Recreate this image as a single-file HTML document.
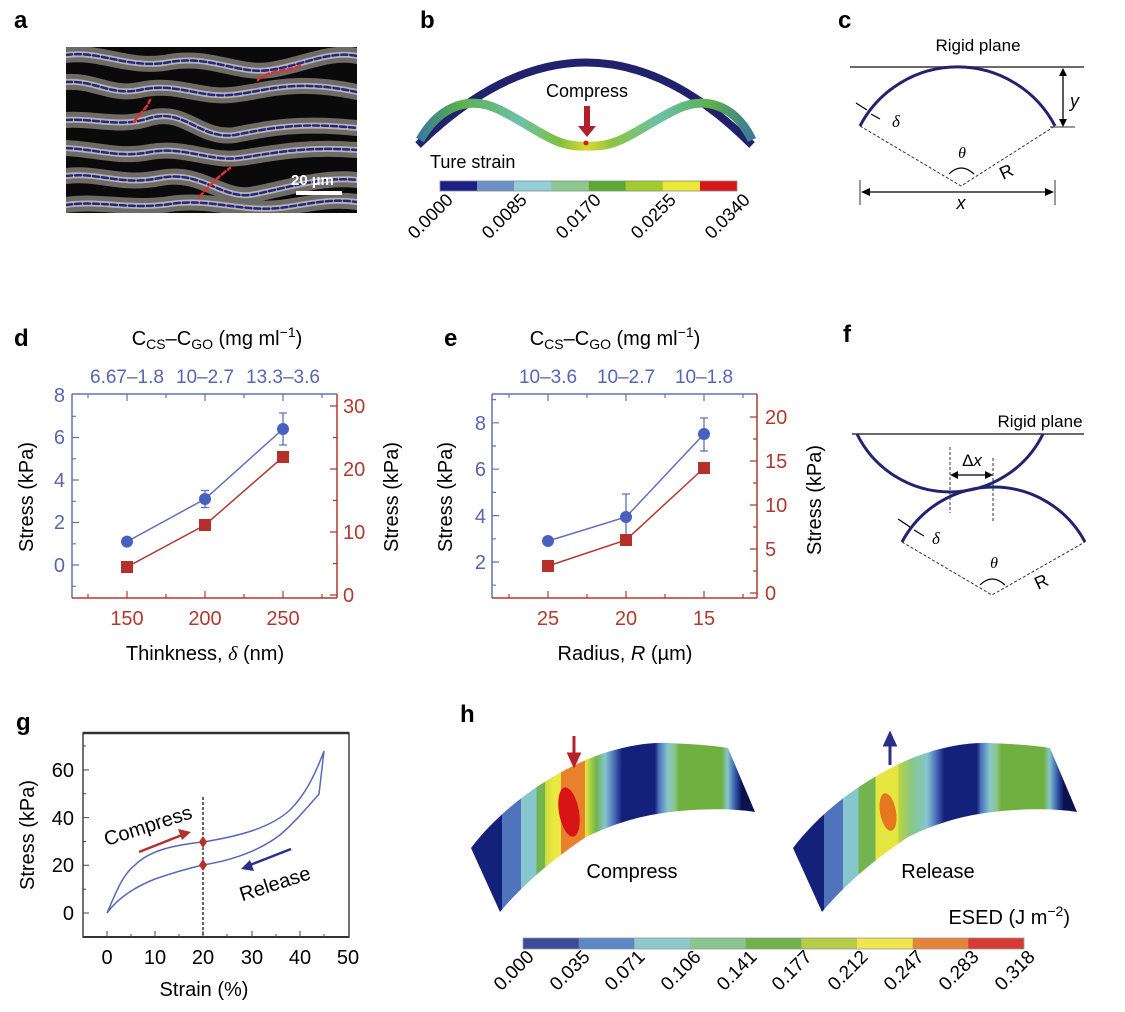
<!DOCTYPE html>
<html><head><meta charset="utf-8"><style>
html,body{margin:0;padding:0;background:#fff;}
svg{display:block;font-family:"Liberation Sans",sans-serif;}
</style></head><body>
<svg width="1125" height="1012" viewBox="0 0 1125 1012" xmlns="http://www.w3.org/2000/svg">
<defs>
<clipPath id="ca"><rect x="66" y="47" width="291" height="166"/></clipPath>
<linearGradient id="wave" x1="420" y1="0" x2="752" y2="0" gradientUnits="userSpaceOnUse">
<stop offset="0" stop-color="#3a7a9a"/><stop offset="0.12" stop-color="#5db04a"/><stop offset="0.3" stop-color="#6cc0a8"/><stop offset="0.42" stop-color="#7fc040"/><stop offset="0.5" stop-color="#d8d830"/><stop offset="0.58" stop-color="#8cc440"/><stop offset="0.72" stop-color="#6cc0a8"/><stop offset="0.88" stop-color="#5db04a"/><stop offset="1" stop-color="#3a7a9a"/>
</linearGradient>
<linearGradient id="hc" x1="471" y1="0" x2="756" y2="0" gradientUnits="userSpaceOnUse">
<stop offset="0" stop-color="#14217a"/><stop offset="0.109" stop-color="#14217a"/><stop offset="0.109" stop-color="#4f73bd"/><stop offset="0.175" stop-color="#4f73bd"/><stop offset="0.175" stop-color="#86c6cc"/><stop offset="0.23" stop-color="#86c6cc"/><stop offset="0.23" stop-color="#72b450"/><stop offset="0.26" stop-color="#72b450"/><stop offset="0.26" stop-color="#c8dc3c"/><stop offset="0.29" stop-color="#ece840"/><stop offset="0.315" stop-color="#ece840"/><stop offset="0.315" stop-color="#e8802c"/><stop offset="0.4" stop-color="#e8802c"/><stop offset="0.4" stop-color="#e8e640"/><stop offset="0.42" stop-color="#a8d040"/><stop offset="0.44" stop-color="#72b450"/><stop offset="0.47" stop-color="#86c6cc"/><stop offset="0.5" stop-color="#4f73bd"/><stop offset="0.53" stop-color="#14217a"/><stop offset="0.645" stop-color="#14217a"/><stop offset="0.66" stop-color="#4f73bd"/><stop offset="0.69" stop-color="#86c6cc"/><stop offset="0.715" stop-color="#8cc48c"/><stop offset="0.73" stop-color="#70b040"/><stop offset="0.88" stop-color="#70b040"/><stop offset="0.9" stop-color="#86c6cc"/><stop offset="0.93" stop-color="#2e4fa6"/><stop offset="0.95" stop-color="#0a1250"/><stop offset="1" stop-color="#0a1250"/>
</linearGradient>
<linearGradient id="hr" x1="793" y1="0" x2="1078" y2="0" gradientUnits="userSpaceOnUse">
<stop offset="0" stop-color="#14217a"/><stop offset="0.109" stop-color="#14217a"/><stop offset="0.109" stop-color="#4f73bd"/><stop offset="0.175" stop-color="#4f73bd"/><stop offset="0.175" stop-color="#86c6cc"/><stop offset="0.23" stop-color="#86c6cc"/><stop offset="0.23" stop-color="#72b450"/><stop offset="0.29" stop-color="#72b450"/><stop offset="0.29" stop-color="#e6e640"/><stop offset="0.37" stop-color="#e6e640"/><stop offset="0.37" stop-color="#b8d440"/><stop offset="0.42" stop-color="#86c68c"/><stop offset="0.47" stop-color="#86c6cc"/><stop offset="0.5" stop-color="#4f73bd"/><stop offset="0.53" stop-color="#14217a"/><stop offset="0.645" stop-color="#14217a"/><stop offset="0.66" stop-color="#4f73bd"/><stop offset="0.69" stop-color="#86c6cc"/><stop offset="0.715" stop-color="#8cc48c"/><stop offset="0.73" stop-color="#70b040"/><stop offset="0.88" stop-color="#70b040"/><stop offset="0.9" stop-color="#86c6cc"/><stop offset="0.93" stop-color="#2e4fa6"/><stop offset="0.95" stop-color="#0a1250"/><stop offset="1" stop-color="#0a1250"/>
</linearGradient>
</defs>

<!-- Panel labels -->
<g font-weight="bold" font-size="24" fill="#000">
<text x="14" y="28">a</text><text x="420" y="28">b</text><text x="838" y="28">c</text>
<text x="14" y="346">d</text><text x="444" y="346">e</text><text x="843" y="342">f</text>
<text x="16" y="730">g</text><text x="460" y="722">h</text>
</g>

<!-- Panel a -->
<rect x="66" y="47" width="291" height="166" fill="#0b0a0a"/>
<g fill="none" stroke-linecap="round" clip-path="url(#ca)">
<g stroke="#8f8a84" stroke-width="16" opacity="0.75">
<path d="M66,55 C100,50 130,70 170,62 C210,55 240,75 270,70 C300,66 330,50 357,56"/>
<path d="M66,82 C95,80 110,96 140,90 C175,82 200,98 230,95 C265,92 290,78 357,92"/>
<path d="M66,120 C95,118 120,128 150,118 C185,108 200,140 235,135 C270,128 300,122 357,128"/>
<path d="M66,148 C100,150 120,158 150,152 C185,146 210,162 240,158 C270,154 300,146 357,150"/>
<path d="M66,176 C100,172 120,186 160,178 C200,170 220,198 250,195 C280,190 320,176 357,180"/>
<path d="M66,205 C100,200 130,210 170,204 C210,198 240,212 280,208 C310,204 330,198 357,202"/>
</g>
<g stroke="#c4c0ba" stroke-width="6" opacity="0.85">
<path d="M66,55 C100,50 130,70 170,62 C210,55 240,75 270,70 C300,66 330,50 357,56"/>
<path d="M66,82 C95,80 110,96 140,90 C175,82 200,98 230,95 C265,92 290,78 357,92"/>
<path d="M66,120 C95,118 120,128 150,118 C185,108 200,140 235,135 C270,128 300,122 357,128"/>
<path d="M66,148 C100,150 120,158 150,152 C185,146 210,162 240,158 C270,154 300,146 357,150"/>
<path d="M66,176 C100,172 120,186 160,178 C200,170 220,198 250,195 C280,190 320,176 357,180"/>
<path d="M66,205 C100,200 130,210 170,204 C210,198 240,212 280,208 C310,204 330,198 357,202"/>
</g>
<g stroke="#22268a" stroke-width="2.5" stroke-dasharray="6,3">
<path d="M66,55 C100,50 130,70 170,62 C210,55 240,75 270,70 C300,66 330,50 357,56"/>
<path d="M66,82 C95,80 110,96 140,90 C175,82 200,98 230,95 C265,92 290,78 357,92"/>
<path d="M66,120 C95,118 120,128 150,118 C185,108 200,140 235,135 C270,128 300,122 357,128"/>
<path d="M66,148 C100,150 120,158 150,152 C185,146 210,162 240,158 C270,154 300,146 357,150"/>
<path d="M66,176 C100,172 120,186 160,178 C200,170 220,198 250,195 C280,190 320,176 357,180"/>
<path d="M66,205 C100,200 130,210 170,204 C210,198 240,212 280,208 C310,204 330,198 357,202"/>
</g>
<g stroke="#e03030" stroke-width="2.5" stroke-dasharray="5,3">
<path d="M258,80 C268,70 285,72 300,66"/>
<path d="M134,122 C140,112 146,110 150,100"/>
<path d="M199,197 C208,188 214,180 230,168"/>
</g>
</g>
<text x="291" y="185" font-size="15" font-weight="bold" fill="#fff">20 µm</text>
<rect x="296" y="191" width="46" height="4" fill="#fff"/>

<!-- Panel b -->
<path d="M418,145 Q587,-20 752,145" fill="none" stroke="#21226b" stroke-width="8"/>
<path d="M420,140 C440,105 470,95 500,110 C540,130 555,148 587,146 C620,148 635,130 675,110 C705,95 735,105 752,140" fill="none" stroke="url(#wave)" stroke-width="9"/>
<circle cx="586" cy="143" r="2.5" fill="#d02020"/>
<text x="587" y="97" font-size="18" text-anchor="middle">Compress</text>
<path d="M584,106 h6 v20 h6 l-9,11 l-9,-11 h6 z" fill="#b0202a"/>
<text x="430" y="168" font-size="18">Ture strain</text>
<g>
<rect x="440" y="181" width="37.2" height="10" fill="#1b1f86"/>
<rect x="477.1" y="181" width="37.2" height="10" fill="#6c90c8"/>
<rect x="514.3" y="181" width="37.2" height="10" fill="#92cfd6"/>
<rect x="551.4" y="181" width="37.2" height="10" fill="#8cc98e"/>
<rect x="588.6" y="181" width="37.2" height="10" fill="#5aaa30"/>
<rect x="625.7" y="181" width="37.2" height="10" fill="#a2cc2a"/>
<rect x="662.9" y="181" width="37.2" height="10" fill="#ece836"/>
<rect x="700" y="181" width="37" height="10" fill="#d81818"/>
<rect x="440" y="181" width="297" height="10" fill="none" stroke="#888" stroke-width="0.8"/>
</g>
<g font-size="18" text-anchor="end">
<text transform="translate(454,201) rotate(-45)">0.0000</text>
<text transform="translate(528,201) rotate(-45)">0.0085</text>
<text transform="translate(602,201) rotate(-45)">0.0170</text>
<text transform="translate(677,201) rotate(-45)">0.0255</text>
<text transform="translate(751,201) rotate(-45)">0.0340</text>
</g>

<!-- Panel c -->
<text x="978" y="51" font-size="17" text-anchor="middle">Rigid plane</text>
<line x1="850" y1="67" x2="1084" y2="67" stroke="#555" stroke-width="1.8"/>
<path d="M860,126 A110,110 0 0 1 1055,126" fill="none" stroke="#22226e" stroke-width="3"/>
<path d="M860,126 L961,186 L1055,126" fill="none" stroke="#333" stroke-width="1" stroke-dasharray="3,2"/>
<line x1="1050" y1="127" x2="1075" y2="127" stroke="#333" stroke-width="1"/>
<line x1="1063" y1="70" x2="1063" y2="125" stroke="#000" stroke-width="1.3"/>
<path d="M1059,76 L1063,68 L1067,76 Z M1059,119 L1063,127 L1067,119 Z" fill="#000"/>
<text x="1070" y="107" font-size="18" font-style="italic">y</text>
<path d="M856,103 L867,110 M880,119 L871,114" stroke="#000" stroke-width="1.2"/>
<text x="892" y="127" font-size="17" font-style="italic" font-family="Liberation Serif,serif">δ</text>
<text x="962" y="158" font-size="16" font-style="italic" font-family="Liberation Serif,serif" text-anchor="middle">θ</text>
<path d="M949,174 Q961,162 974,174" fill="none" stroke="#000" stroke-width="1.2"/>
<text transform="translate(1003,180) rotate(-25)" font-size="18">R</text>
<line x1="860" y1="180" x2="860" y2="205" stroke="#333" stroke-width="1"/>
<line x1="1055" y1="180" x2="1055" y2="205" stroke="#333" stroke-width="1"/>
<line x1="864" y1="192" x2="1051" y2="192" stroke="#000" stroke-width="1.3"/>
<path d="M870,188 L861,192 L870,196 Z M1045,188 L1054,192 L1045,196 Z" fill="#000"/>
<text x="961" y="209" font-size="18" font-style="italic" text-anchor="middle">x</text>

<!-- Panel f -->
<text x="1040" y="427" font-size="17" text-anchor="middle">Rigid plane</text>
<line x1="852" y1="434" x2="1084" y2="434" stroke="#555" stroke-width="1.8"/>
<path d="M857,434 A103.6,103.6 0 0 0 1043,434" fill="none" stroke="#22226e" stroke-width="3"/>
<path d="M902,542 A103.6,103.6 0 0 1 1085,542" fill="none" stroke="#22226e" stroke-width="3"/>
<path d="M902,542 L992,595 L1085,542" fill="none" stroke="#333" stroke-width="1" stroke-dasharray="3,2"/>
<line x1="950" y1="447" x2="950" y2="513" stroke="#333" stroke-width="1" stroke-dasharray="3,2"/>
<line x1="993" y1="458" x2="993" y2="523" stroke="#333" stroke-width="1" stroke-dasharray="3,2"/>
<line x1="954" y1="475" x2="989" y2="475" stroke="#000" stroke-width="1.3"/>
<path d="M958,471 L950,475 L958,479 Z M985,471 L993,475 L985,479 Z" fill="#000"/>
<text x="972" y="466" font-size="17" text-anchor="middle">Δ<tspan font-style="italic">x</tspan></text>
<path d="M898,519 L910,527 M924,536 L914,530" stroke="#000" stroke-width="1.2"/>
<text x="932" y="544" font-size="17" font-style="italic" font-family="Liberation Serif,serif">δ</text>
<text x="994" y="568" font-size="16" font-style="italic" font-family="Liberation Serif,serif" text-anchor="middle">θ</text>
<path d="M980,585 Q992,573 1005,585" fill="none" stroke="#000" stroke-width="1.2"/>
<text transform="translate(1038,590) rotate(-25)" font-size="18">R</text>

<!-- Panel d -->
<g font-size="20">
<text x="217" y="345" text-anchor="middle">C<tspan font-size="14" dy="4">CS</tspan><tspan dy="-4">–C</tspan><tspan font-size="14" dy="4">GO</tspan><tspan dy="-4"> (mg ml</tspan><tspan font-size="14" dy="-8">−1</tspan><tspan dy="8">)</tspan></text>
<g fill="#5865b0" text-anchor="middle" font-size="19"><text x="127" y="383">6.67–1.8</text><text x="205" y="383">10–2.7</text><text x="283" y="383">13.3–3.6</text></g>
<g fill="#5865b0" text-anchor="end" font-size="20"><text x="65" y="572">0</text><text x="65" y="529">2</text><text x="65" y="487">4</text><text x="65" y="444">6</text><text x="65" y="402">8</text></g>
<g fill="#b03a2e" font-size="20"><text x="343" y="602">0</text><text x="343" y="539">10</text><text x="343" y="476">20</text><text x="343" y="413">30</text></g>
<g fill="#b03a2e" text-anchor="middle" font-size="20"><text x="127" y="625">150</text><text x="205" y="625">200</text><text x="283" y="625">250</text></g>
<text x="205" y="660" text-anchor="middle">Thinkness, <tspan font-style="italic" font-family="Liberation Serif,serif">δ</tspan> (nm)</text>
<text transform="translate(33,497) rotate(-90)" text-anchor="middle">Stress (kPa)</text>
<text transform="translate(398,497) rotate(-90)" text-anchor="middle">Stress (kPa)</text>
</g>
<g stroke-width="1.5">
<line x1="72" y1="394" x2="72" y2="598" stroke="#6070b8"/><line x1="72" y1="394" x2="337" y2="394" stroke="#6070b8"/>
<line x1="72" y1="598" x2="337" y2="598" stroke="#b03a2e"/><line x1="337" y1="394" x2="337" y2="598" stroke="#b03a2e"/>
</g>
<g stroke="#6070b8" stroke-width="1.2">
<path d="M72,565h7M72,522.5h7M72,480h7M72,437.5h7M72,543.8h4M72,501.3h4M72,458.8h4M72,416.3h4M72,586.3h4"/>
<path d="M127,394v7M205,394v7M283,394v7M88,394v4M166,394v4M244,394v4M322,394v4"/>
</g>
<g stroke="#b03a2e" stroke-width="1.2">
<path d="M127,598v-7M205,598v-7M283,598v-7M88,598v-4M166,598v-4M244,598v-4M322,598v-4"/>
<path d="M337,595h-7M337,532h-7M337,469h-7M337,406h-7M337,563.5h-4M337,500.5h-4M337,437.5h-4"/>
</g>
<polyline points="127,541.6 205,499 283,429" fill="none" stroke="#6070b8" stroke-width="1.5"/>
<path d="M205,490.5v17M201,490.5h8M201,507.5h8M283,413v32M279,413h8M279,445h8" stroke="#6070b8" stroke-width="1.3"/>
<g fill="#4a60c0"><circle cx="127" cy="541.6" r="6"/><circle cx="205" cy="499" r="6"/><circle cx="283" cy="429" r="6"/></g>
<polyline points="127,567 205,525 283,457" fill="none" stroke="#b03a2e" stroke-width="1.5"/>
<g fill="#b5302a"><rect x="121" y="561" width="12" height="12"/><rect x="199" y="519" width="12" height="12"/><rect x="277" y="451" width="12" height="12"/></g>

<!-- Panel e -->
<g font-size="20">
<text x="615" y="345" text-anchor="middle">C<tspan font-size="14" dy="4">CS</tspan><tspan dy="-4">–C</tspan><tspan font-size="14" dy="4">GO</tspan><tspan dy="-4"> (mg ml</tspan><tspan font-size="14" dy="-8">−1</tspan><tspan dy="8">)</tspan></text>
<g fill="#5865b0" text-anchor="middle" font-size="19"><text x="548" y="383">10–3.6</text><text x="626" y="383">10–2.7</text><text x="704" y="383">10–1.8</text></g>
<g fill="#5865b0" text-anchor="end" font-size="20"><text x="486" y="569">2</text><text x="486" y="523">4</text><text x="486" y="476">6</text><text x="486" y="430">8</text></g>
<g fill="#b03a2e" font-size="20"><text x="765" y="600">0</text><text x="765" y="556">5</text><text x="765" y="512">10</text><text x="765" y="468">15</text><text x="765" y="424">20</text></g>
<g fill="#b03a2e" text-anchor="middle" font-size="20"><text x="548" y="625">25</text><text x="626" y="625">20</text><text x="704" y="625">15</text></g>
<text x="625" y="660" text-anchor="middle">Radius, <tspan font-style="italic">R</tspan> (µm)</text>
<text transform="translate(452,497) rotate(-90)" text-anchor="middle">Stress (kPa)</text>
<text transform="translate(821,500) rotate(-90)" text-anchor="middle">Stress (kPa)</text>
</g>
<g stroke-width="1.5">
<line x1="492" y1="394" x2="492" y2="598" stroke="#6070b8"/><line x1="492" y1="394" x2="757" y2="394" stroke="#6070b8"/>
<line x1="492" y1="598" x2="757" y2="598" stroke="#b03a2e"/><line x1="757" y1="394" x2="757" y2="598" stroke="#b03a2e"/>
</g>
<g stroke="#6070b8" stroke-width="1.2">
<path d="M492,562h7M492,515.6h7M492,469.2h7M492,422.8h7M492,585.2h4M492,538.8h4M492,492.4h4M492,446h4M492,399.6h4"/>
<path d="M548,394v7M626,394v7M704,394v7M509,394v4M587,394v4M665,394v4M743,394v4"/>
</g>
<g stroke="#b03a2e" stroke-width="1.2">
<path d="M548,598v-7M626,598v-7M704,598v-7M509,598v-4M587,598v-4M665,598v-4M743,598v-4"/>
<path d="M757,593h-7M757,549h-7M757,505h-7M757,461h-7M757,417h-7M757,571h-4M757,527h-4M757,483h-4M757,439h-4"/>
</g>
<polyline points="548,541 626,517 704,434" fill="none" stroke="#6070b8" stroke-width="1.5"/>
<path d="M626,494v40M622,494h8M704,418v33M700,418h8M700,451h8" stroke="#6070b8" stroke-width="1.3"/>
<g fill="#4a60c0"><circle cx="548" cy="541" r="6"/><circle cx="626" cy="517" r="6"/><circle cx="704" cy="434" r="6"/></g>
<polyline points="548,566 626,540 704,468" fill="none" stroke="#b03a2e" stroke-width="1.5"/>
<g fill="#b5302a"><rect x="542" y="560" width="12" height="12"/><rect x="620" y="534" width="12" height="12"/><rect x="698" y="462" width="12" height="12"/></g>

<!-- Panel g -->
<rect x="83" y="733" width="266" height="204" fill="none" stroke="#444" stroke-width="1.5"/>
<line x1="83" y1="733" x2="349" y2="733" stroke="#333" stroke-width="2.5"/>
<line x1="83" y1="937" x2="349" y2="937" stroke="#333" stroke-width="2"/>
<g stroke="#444" stroke-width="1">
<path d="M83,913h6M83,865.3h6M83,817.6h6M83,769.9h6M83,889.2h3M83,841.5h3M83,793.8h3M83,746h3"/>
<path d="M107,937v-6M155,937v-6M203,937v-6M252,937v-6M300,937v-6M131,937v-3M179,937v-3M227,937v-3M276,937v-3M324,937v-3"/>
</g>
<g font-size="20" text-anchor="end"><text x="74" y="920">0</text><text x="74" y="872">20</text><text x="74" y="825">40</text><text x="74" y="777">60</text></g>
<g font-size="20" text-anchor="middle"><text x="107" y="964">0</text><text x="155" y="964">10</text><text x="203" y="964">20</text><text x="252" y="964">30</text><text x="300" y="964">40</text><text x="348" y="964">50</text></g>
<text x="204" y="996" font-size="20" text-anchor="middle">Strain (%)</text>
<text transform="translate(34,835) rotate(-90)" font-size="20" text-anchor="middle">Stress (kPa)</text>
<line x1="203" y1="797" x2="203" y2="937" stroke="#000" stroke-width="1.2" stroke-dasharray="3,2"/>
<path d="M107,913 C115,895 122,875 135,865 C150,850 175,845 203,842 C240,836 270,828 290,810 C305,795 315,775 324,751 M107,913 C120,895 140,885 155,879 C175,872 190,868 203,865 C235,860 260,850 280,835 C295,822 305,810 319,794 L324,751" fill="none" stroke="#5868b8" stroke-width="1.5"/>
<g fill="#b5302a"><path d="M203,836 l4,6 l-4,6 l-4,-6 z"/><path d="M203,859 l4,6 l-4,6 l-4,-6 z"/></g>
<text transform="translate(150,832) rotate(-18)" font-size="20" text-anchor="middle">Compress</text>
<line x1="139" y1="852" x2="182" y2="835" stroke="#b5302a" stroke-width="2.5"/>
<path d="M191,832 L178,829 L182,840 Z" fill="#b5302a"/>
<text transform="translate(277,890) rotate(-18)" font-size="20" text-anchor="middle">Release</text>
<line x1="291" y1="849" x2="250" y2="865" stroke="#2a2f8a" stroke-width="2.5"/>
<path d="M241,869 L254,871 L250,860 Z" fill="#2a2f8a"/>

<!-- Panel h -->
<path d="M471,848 C500,810 540,782 575,765 C605,750 640,742 667,743 C690,744 710,745 728,748 L755,812 C730,808 690,808 651,815 C625,820 605,828 586,837 C555,858 525,882 500,912 Z" fill="url(#hc)"/>
<ellipse cx="569" cy="812" rx="10" ry="25" transform="rotate(-10,569,812)" fill="#d81414"/>
<path d="M574,736 v18 h-5 l5,11 l5,-11 h-5" fill="#b5222a" stroke="#b5222a" stroke-width="3"/>
<text x="632" y="878" font-size="20" text-anchor="middle">Compress</text>
<path d="M793,848 C822,810 862,782 897,765 C927,750 962,742 989,743 C1012,744 1032,745 1050,748 L1077,812 C1052,808 1012,808 973,815 C947,820 927,828 908,837 C877,858 847,882 822,912 Z" fill="url(#hr)"/>
<ellipse cx="888" cy="812" rx="8" ry="19" transform="rotate(-10,888,812)" fill="#e4781e"/>
<path d="M890,765 v-20 h-5 l5,-11 l5,11 h-5" fill="#2a2f8a" stroke="#2a2f8a" stroke-width="3"/>
<text x="938" y="878" font-size="20" text-anchor="middle">Release</text>
<text x="1070" y="924" font-size="20" text-anchor="end">ESED (J m<tspan font-size="14" dy="-8">−2</tspan><tspan dy="8">)</tspan></text>
<g>
<rect x="523" y="938" width="56" height="11" fill="#3c4a98"/>
<rect x="578.7" y="938" width="56" height="11" fill="#5c86c4"/>
<rect x="634.3" y="938" width="56" height="11" fill="#8ec8cc"/>
<rect x="690" y="938" width="56" height="11" fill="#8cc48e"/>
<rect x="745.7" y="938" width="56" height="11" fill="#72b04a"/>
<rect x="801.3" y="938" width="56" height="11" fill="#b4cc46"/>
<rect x="857" y="938" width="56" height="11" fill="#eee64c"/>
<rect x="912.7" y="938" width="56" height="11" fill="#e4843a"/>
<rect x="968.3" y="938" width="55.7" height="11" fill="#d63a34"/>
<rect x="523" y="938" width="501" height="11" fill="none" stroke="#999" stroke-width="0.8"/>
</g>
<g font-size="19" text-anchor="end">
<text transform="translate(535,958) rotate(-45)">0.000</text>
<text transform="translate(591,958) rotate(-45)">0.035</text>
<text transform="translate(646,958) rotate(-45)">0.071</text>
<text transform="translate(702,958) rotate(-45)">0.106</text>
<text transform="translate(758,958) rotate(-45)">0.141</text>
<text transform="translate(813,958) rotate(-45)">0.177</text>
<text transform="translate(869,958) rotate(-45)">0.212</text>
<text transform="translate(925,958) rotate(-45)">0.247</text>
<text transform="translate(980,958) rotate(-45)">0.283</text>
<text transform="translate(1036,958) rotate(-45)">0.318</text>
</g>
</svg>
</body></html>
